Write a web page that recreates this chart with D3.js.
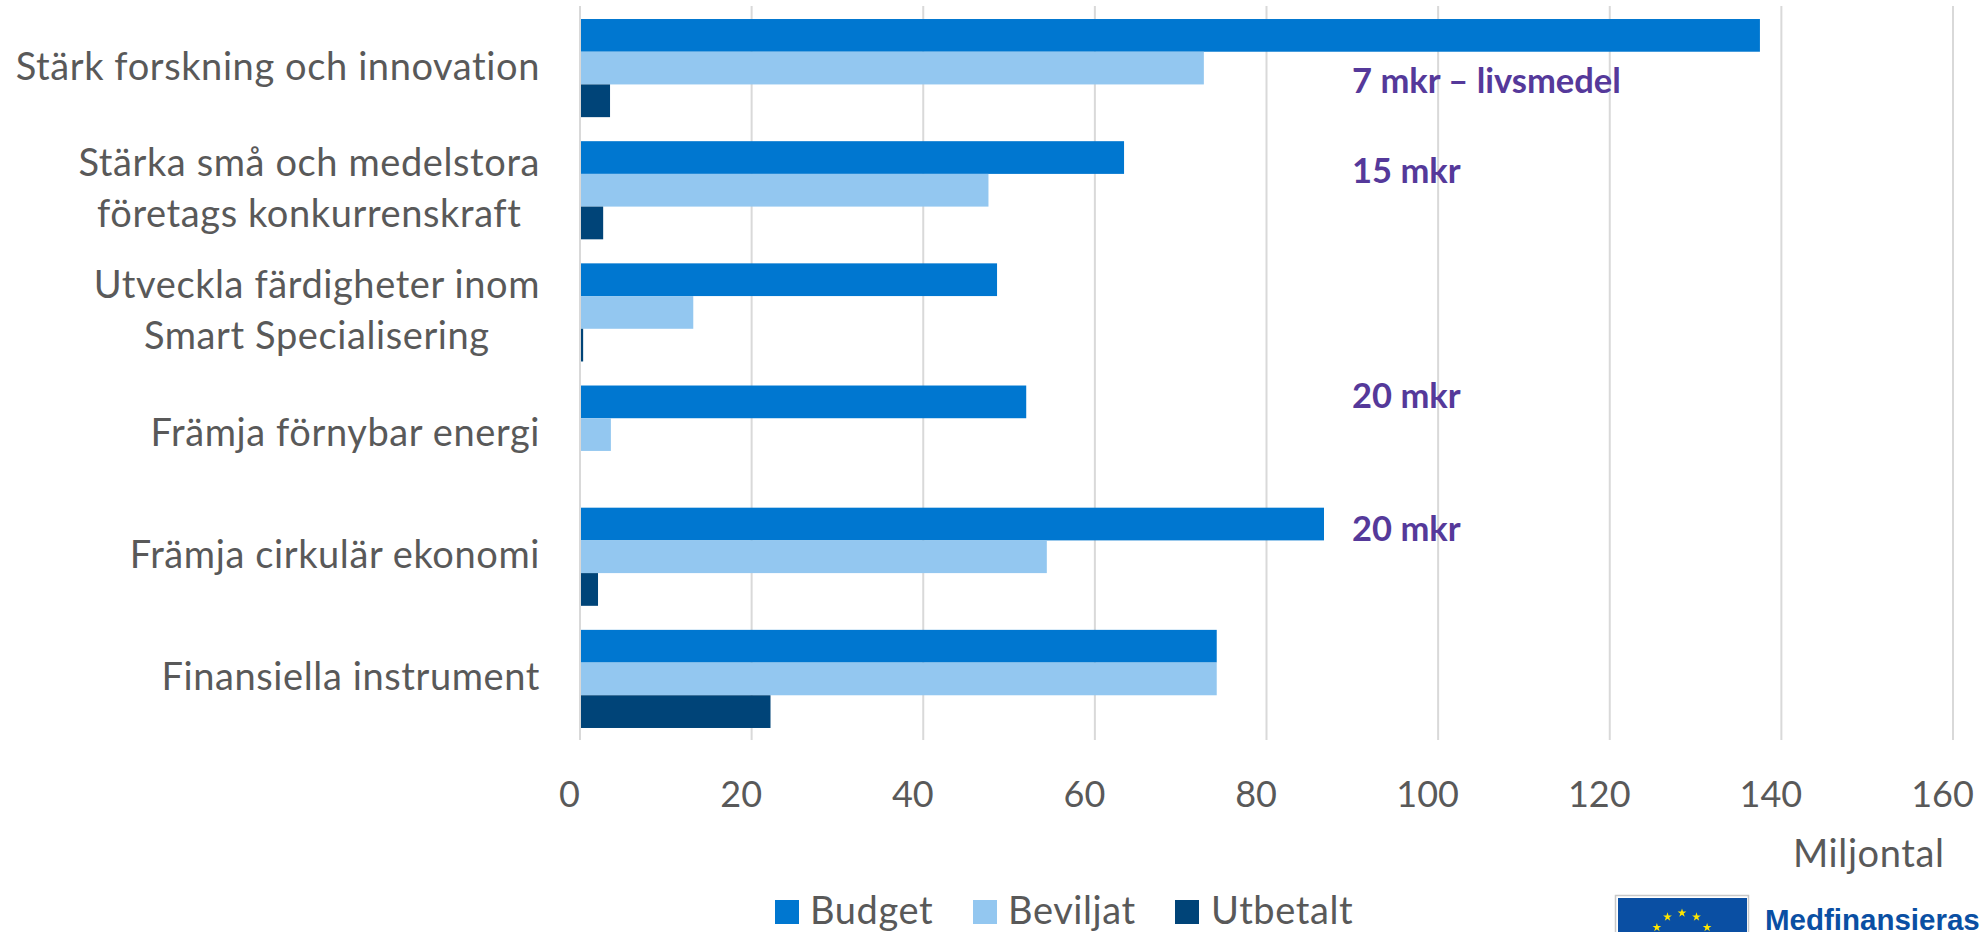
<!DOCTYPE html>
<html><head><meta charset="utf-8">
<script src="https://cdn.jsdelivr.net/npm/d3@7"></script>
<style>html,body{margin:0;background:#fff}svg{display:block}</style></head>
<body><svg id="c" width="1987" height="932"></svg>
<script>
const categories=["Stärk forskning och innovation","Stärka små och medelstora|företags konkurrenskraft","Utveckla färdigheter inom|Smart Specialisering","Främja förnybar energi","Främja cirkulär ekonomi","Finansiella instrument"];
const budget=[137.5,63.4,48.6,52,86.7,74.2];
const beviljat=[72.7,47.6,13.2,3.6,54.4,74.2];
const utbetalt=[3.5,2.7,0.25,0,2.1,22.2];
const seriesNames=["Budget","Beviljat","Utbetalt"];
const seriesColors=["#0077d0","#93c7f0","#004478"];
const xTicks=[0,20,40,60,80,100,120,140,160];
const noteTexts=["7 mkr – livsmedel","15 mkr","20 mkr","20 mkr"];
const noteCats=[0,1,3,4];
const noteDy=[25,-7,-27,-16];

const svg=d3.select("#c");
const font="Lato, sans-serif";
const x=d3.scaleLinear().domain([0,160]).range([580,1953]);
const y0=d3.scaleBand().domain(d3.range(categories.length)).range([7,740]).paddingInner(24/122).paddingOuter(12/122);
const y1=d3.scaleBand().domain(seriesNames).range([0,y0.bandwidth()]);

svg.append("g").selectAll("line").data(xTicks).join("line")
 .attr("x1",d=>x(d)).attr("x2",d=>x(d)).attr("y1",6).attr("y2",740)
 .attr("stroke","#d9d9d9").attr("stroke-width",2);

[budget,beviljat,utbetalt].forEach((vals,s)=>{
 svg.append("g").selectAll("rect").data(vals).join("rect")
  .attr("x",x(0)+1).attr("y",(d,i)=>y0(i)+y1(seriesNames[s]))
  .attr("width",d=>Math.max(0,x(d)-x(0)-(d>0.5?1:0))).attr("height",y1.bandwidth()).attr("fill",seriesColors[s]);
});

const axis=d3.axisBottom(x).tickValues(xTicks).tickSize(0).tickPadding(0);
const gx=svg.append("g").attr("transform","translate(0,742)").call(axis);
gx.select(".domain").remove();
gx.selectAll("text").attr("x",-11).attr("y",65).attr("dy",0).attr("fill","#595959").attr("font-family",font).attr("font-size",36);

categories.forEach((c,i)=>{
 const lines=c.split("|"), cy=y0(i)+y0.bandwidth()/2;
 const nodes=lines.map((t,j)=>svg.append("text").attr("text-anchor","middle")
   .attr("y",cy+11.5+(j-(lines.length-1)/2)*51)
   .attr("fill","#595959").attr("font-family",font).attr("font-size",38).attr("letter-spacing",0.6).text(t));
 const w=d3.max(nodes,n=>n.node().getComputedTextLength());
 nodes.forEach(n=>n.attr("x",540-w/2));
});

noteTexts.forEach((t,i)=>{
 svg.append("text").attr("x",1352).attr("y",y0(noteCats[i])+y0.bandwidth()/2+noteDy[i])
  .attr("fill","#55399a").attr("font-family",font).attr("font-weight",700).attr("font-size",34.5).text(t);
});

svg.append("text").attr("x",1793).attr("y",867).attr("fill","#595959").attr("font-family",font).attr("font-size",38).attr("letter-spacing",0.6).text("Miljontal");

seriesNames.forEach((n,i)=>{
 const g=svg.append("g");
 g.append("rect").attr("x",[775,973,1175][i]).attr("y",900).attr("width",24).attr("height",24).attr("fill",seriesColors[i]);
 g.append("text").attr("x",[810,1008,1211][i]).attr("y",924).attr("fill","#595959").attr("font-family",font).attr("font-size",38).attr("letter-spacing",0.6).text(n);
});

// EU co-funding emblem
const logo=svg.append("g");
logo.append("rect").attr("x",1615.5).attr("y",895.5).attr("width",133).attr("height",40).attr("fill","#fff").attr("stroke","#c8c8c8").attr("stroke-width",1.5);
logo.append("rect").attr("x",1618).attr("y",898).attr("width",129).attr("height",34).attr("fill","#0a4fa3");
const star=d3.symbol().type(d3.symbolStar).size(24);
[-60,-30,0,30,60].forEach(a=>{
 const r=a*Math.PI/180;
 logo.append("path").attr("d",star()).attr("fill","#ffe600")
  .attr("transform",`translate(${1682+Math.sin(r)*29},${942-Math.cos(r)*29})`);
});
svg.append("text").attr("x",1765).attr("y",930).attr("fill","#0a4fa3").attr("font-family","Liberation Sans, sans-serif").attr("font-weight",700).attr("font-size",29.5).text("Medfinansieras");
</script></body></html>
